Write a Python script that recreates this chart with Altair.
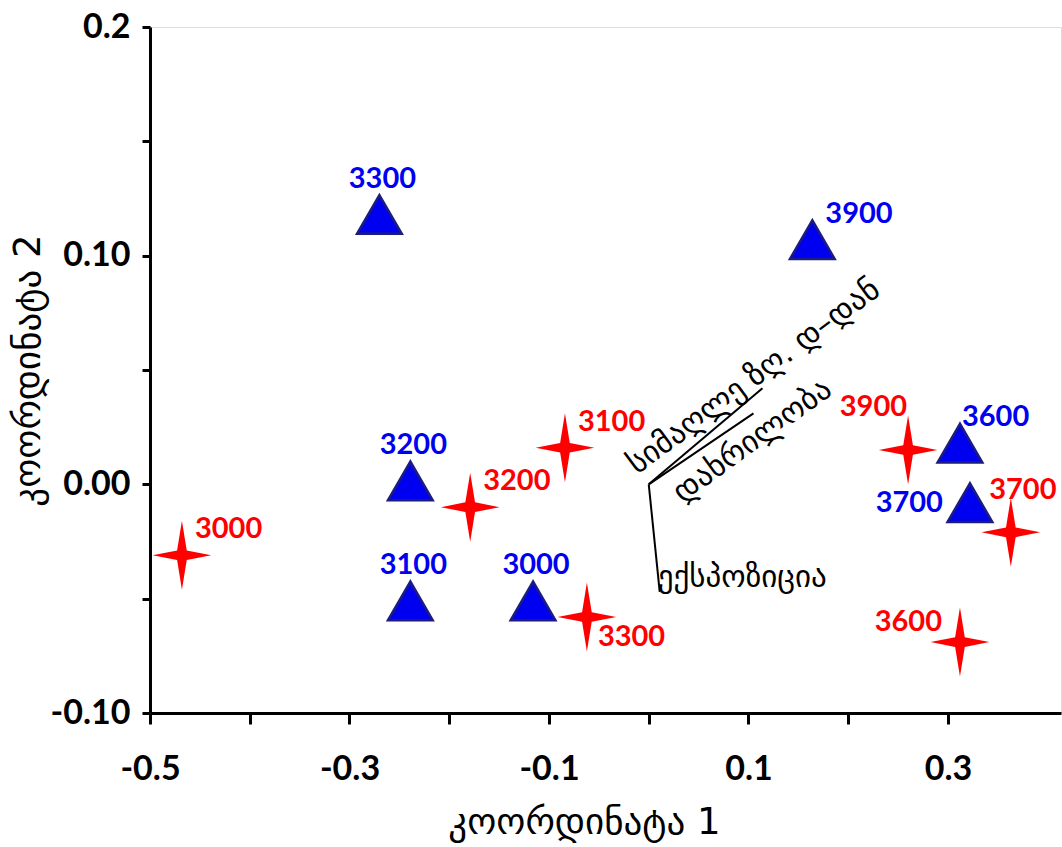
import altair as alt
import pandas as pd

# ---------------- data ----------------
blue_labels = ["3000", "3100", "3200", "3300", "3600", "3700", "3900"]
blue_x = [-0.116, -0.239, -0.239, -0.270, 0.312, 0.322, 0.164]
blue_y = [-0.051, -0.051, 0.0015, 0.118, 0.018, -0.008, 0.107]
blue_place = ["N", "N", "N", "N", "NE_close", "W", "NE"]

red_labels = ["3000", "3100", "3200", "3300", "3600", "3700", "3900"]
red_x = [-0.468, -0.084, -0.179, -0.062, 0.312, 0.363, 0.260]
red_y = [-0.031, 0.016, -0.010, -0.058, -0.069, -0.021, 0.015]
red_place = ["NE", "NE", "NE", "SE", "NW", "N_right", "N_left"]

vec_names = ["სიმაღლე ზღ. დ–დან", "დახრილობა", "ექსპოზიცია"]
vec_x = [0.114, 0.105, 0.011]
vec_y = [0.042, 0.031, -0.047]

x_tick_values = [-0.5, -0.4, -0.3, -0.2, -0.1, 0.0, 0.1, 0.2, 0.3]
x_tick_labels = ["-0.5", "", "-0.3", "", "-0.1", "", "0.1", "", "0.3"]
y_tick_values = [-0.10, -0.05, 0.0, 0.05, 0.10, 0.15, 0.2]
y_tick_labels = ["-0.10", "", "0.00", "", "0.10", "", "0.2"]

x_title = "კოორდინატა 1"
y_title = "კოორდინატა 2"

# ---------------- styling ----------------
BLUE = "#0000F0"
BLUE_EDGE = "#1C1C80"
RED = "#FF0000"
NUM_FONT = "Lato"
GEO_FONT = "DejaVu Sans"

# label placement: (align, dx, dy)
PLACEMENTS = {
    "N": ("center", 3, -36),
    "NE": ("left", 13, -26),
    "NE_close": ("left", 2, -26),
    "SE": ("left", 11, 20),
    "W": ("right", -27, 0),
    "NW": ("right", -18, -20),
    "N_right": ("center", 12, -42),
    "N_left": ("right", -1, -43),
}

# vector label style: (angle, align, dx, dy)
VEC_LABEL_STYLE = [
    (323.5, "center", 0, -14),
    (324, "center", -17, 22),
    (0, "left", -2, -14),
]

STAR = "M0,-1 L0.14,-0.14 L0.85,0 L0.14,0.14 L0,1 L-0.14,0.14 L-0.85,0 L-0.14,-0.14 Z"

blue_df = pd.DataFrame({"x": blue_x, "y": blue_y, "label": blue_labels, "place": blue_place})
red_df = pd.DataFrame({"x": red_x, "y": red_y, "label": red_labels, "place": red_place})
vec_df = pd.DataFrame({"x0": [0.0] * 3, "y0": [0.0] * 3, "x": vec_x, "y": vec_y, "name": vec_names})

x_expr = "[" + ",".join("'%s'" % s for s in x_tick_labels) + "][round((datum.value - (%s)) * 10)]" % x_tick_values[0]
y_expr = "[" + ",".join("'%s'" % s for s in y_tick_labels) + "][round((datum.value - (%s)) * 20)]" % y_tick_values[0]

x_axis = alt.Axis(
    values=x_tick_values, labelExpr=x_expr, grid=False,
    domainColor="black", domainWidth=3, tickColor="black", tickWidth=3, tickSize=11,
    labelFont=NUM_FONT, labelFontSize=34, labelFontWeight="bold", labelColor="black",
    labelPadding=28, labelFlush=False, labelOverlap=False,
    title=x_title, titleFont=GEO_FONT, titleFontSize=37, titleFontWeight="normal",
    titleColor="black", titleX=434, titleY=109, titleAlign="center", titleBaseline="middle",
)
y_axis = alt.Axis(
    values=y_tick_values, labelExpr=y_expr, grid=False,
    domainColor="black", domainWidth=3, tickColor="black", tickWidth=3, tickSize=8,
    labelFont=NUM_FONT, labelFontSize=34, labelFontWeight="bold", labelColor="black",
    labelPadding=12, labelFlush=False, labelOverlap=False,
    title=y_title, titleFont=GEO_FONT, titleFontSize=37, titleFontWeight="normal",
    titleColor="black", titleX=-122, titleY=343, titleAngle=270, titleAlign="center",
    titleBaseline="middle",
)

X_SCALE = alt.Scale(domain=[-0.5, 0.4133], nice=False, zero=False)
Y_SCALE = alt.Scale(domain=[-0.10, 0.2], nice=False, zero=False)
X = alt.X("x:Q", scale=X_SCALE, axis=x_axis)
Y = alt.Y("y:Q", scale=Y_SCALE, axis=y_axis)

layers = []

# vectors
layers.append(
    alt.Chart(vec_df).mark_rule(color="black", strokeWidth=2).encode(
        x=alt.X("x0:Q", scale=X_SCALE, axis=x_axis),
        y=alt.Y("y0:Q", scale=Y_SCALE, axis=y_axis),
        x2="x:Q", y2="y:Q",
    )
)
for i, (angle, align, dx, dy) in enumerate(VEC_LABEL_STYLE):
    layers.append(
        alt.Chart(vec_df).transform_filter(alt.datum.name == vec_names[i]).mark_text(
            angle=angle, align=align, baseline="middle", dx=dx, dy=dy,
            font=GEO_FONT, fontSize=31, color="black",
        ).encode(x=X, y=Y, text="name:N")
    )

# points
layers.append(
    alt.Chart(blue_df).mark_point(
        shape="triangle-up", size=2000, filled=True, fill=BLUE, fillOpacity=1,
        stroke=BLUE_EDGE, strokeWidth=2.5, opacity=1,
    ).encode(x=X, y=Y)
)
layers.append(
    alt.Chart(red_df).mark_point(
        shape=STAR, size=4761, filled=True, fill=RED, fillOpacity=1, strokeWidth=0, opacity=1,
    ).encode(x=X, y=Y)
)

# point labels
for df, color in ((blue_df, BLUE), (red_df, RED)):
    for key, (align, dx, dy) in PLACEMENTS.items():
        if key not in set(df["place"]):
            continue
        layers.append(
            alt.Chart(df).transform_filter(alt.datum.place == key).mark_text(
                align=align, baseline="middle", dx=dx, dy=dy,
                font=NUM_FONT, fontSize=29, fontWeight="bold", color=color,
            ).encode(x=X, y=Y, text="label:N")
        )

chart = alt.layer(*layers).properties(
    width=911, height=686,
    autosize=alt.AutoSizeParams(type="none"),
    padding={"left": 150, "top": 27, "right": 1, "bottom": 134},
).configure_view(stroke="black", strokeWidth=3).configure(background="white")

chart.save("out.html", embed_options={"renderer": "svg", "actions": False})
